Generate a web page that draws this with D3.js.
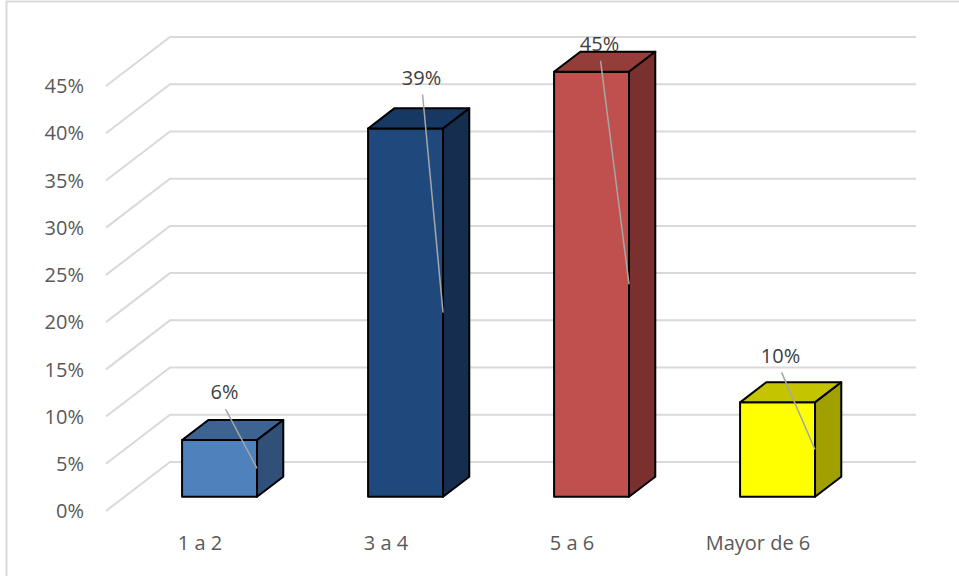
<!DOCTYPE html>
<html>
<head>
<meta charset="utf-8">
<script src="https://cdn.jsdelivr.net/npm/d3@7"></script>
<style>
  html, body { margin: 0; padding: 0; background: #fff; }
  svg { display: block; }
</style>
</head>
<body>
<svg id="chart" width="959" height="576"></svg>
<script>
// ---- data ----
const categories = ["1 a 2", "3 a 4", "5 a 6", "Mayor de 6"];
const values = [0.06, 0.39, 0.45, 0.10];
const valueLabels = ["6%", "39%", "45%", "10%"];
const yTicks = [0, 0.05, 0.10, 0.15, 0.20, 0.25, 0.30, 0.35, 0.40, 0.45];

// ---- styles (not data) ----
const frontColors = ["#4f81bd", "#1f497d", "#c0504d", "#ffff00"];
const topColors   = ["#3c6391", "#173862", "#943d3b", "#c4c400"];
const sideColors  = ["#30507a", "#152d4f", "#7a302e", "#a0a000"];
const labelOffsets = [[5, -48], [16, -51], [8, -28], [3, -47]];

const svg = d3.select("#chart");
const font = "'Open Sans', 'DejaVu Sans', sans-serif";

// frame
svg.append("rect")
  .attr("x", 6.5).attr("y", 1.5)
  .attr("width", 1000).attr("height", 620)
  .attr("fill", "none").attr("stroke", "#d9d9d9").attr("stroke-width", 2);

// scales (front plane)
const y = d3.scaleLinear().domain([0, 0.45]).range([511, 86]);
const x = d3.scaleBand().domain(categories).range([107, 851]).padding(0);
const depth = { dx: 64, dy: -49 };       // full depth of plot box
const barDepth0 = 0.29, barDepth1 = 0.70; // bar front/back depth fractions
const barW = x.bandwidth() * 0.403;

function proj(px, py, f) { return [px + depth.dx * f, py + depth.dy * f]; }

// gridlines: floor-wall diagonal + back wall horizontal
const grid = svg.append("g");
yTicks.forEach(t => {
  const p0 = [106, y(t)];
  const p1 = proj(106, y(t), 1);
  const p2 = [916, p1[1]];
  grid.append("path")
    .attr("d", d3.line()([p0, p1, p2]))
    .attr("fill", "none").attr("stroke", "#d9d9d9").attr("stroke-width", 2);
});

// y tick labels
svg.append("g").selectAll("text").data(yTicks).join("text")
  .attr("x", 84).attr("y", d => y(d))
  .attr("dy", "0.36em")
  .attr("text-anchor", "end")
  .attr("font-family", font).attr("font-size", 20)
  .attr("fill", "#595959")
  .text(d => d3.format(".0%")(d));

// bars
const bars = svg.append("g");
categories.forEach((c, i) => {
  const x0f = x(c) + (x.bandwidth() - barW) / 2 + 1;
  const x1f = x0f + barW;
  const a = proj(x0f, y(0), barDepth0);           // front bottom-left
  const b = proj(x1f, y(0), barDepth0);           // front bottom-right
  const tl = proj(x0f, y(values[i]), barDepth0);  // front top-left
  const tr = proj(x1f, y(values[i]), barDepth0);  // front top-right
  const btl = proj(x0f, y(values[i]), barDepth1);
  const btr = proj(x1f, y(values[i]), barDepth1);
  const bbr = proj(x1f, y(0), barDepth1);
  const g = bars.append("g")
    .attr("stroke", "#000").attr("stroke-width", 2).attr("stroke-linejoin", "round");
  g.append("path").attr("d", d3.line()([tl, tr, b, a]) + "Z").attr("fill", frontColors[i]);
  g.append("path").attr("d", d3.line()([tl, btl, btr, tr]) + "Z").attr("fill", topColors[i]);
  g.append("path").attr("d", d3.line()([tr, btr, bbr, b]) + "Z").attr("fill", sideColors[i]);

  // data label + leader line
  const cx = (tl[0] + tr[0]) / 2 + labelOffsets[i][0];
  const cy = tl[1] + labelOffsets[i][1];
  const end = [tr[0], (tr[1] + b[1]) / 2];
  svg.append("line")
    .attr("x1", cx + 1).attr("y1", cy + 17)
    .attr("x2", end[0]).attr("y2", end[1])
    .attr("stroke", "#a6a6a6").attr("stroke-width", 1.5);
  svg.append("text")
    .attr("x", cx).attr("y", cy).attr("dy", "0.36em")
    .attr("text-anchor", "middle")
    .attr("font-family", font).attr("font-size", 20)
    .attr("fill", "#404040")
    .text(valueLabels[i]);
});

// category labels
svg.append("g").selectAll("text").data(categories).join("text")
  .attr("x", d => x(d) + x.bandwidth() / 2)
  .attr("y", 543).attr("dy", "0.36em")
  .attr("text-anchor", "middle")
  .attr("font-family", font).attr("font-size", 20)
  .attr("fill", "#595959")
  .text(d => d);
</script>
</body>
</html>
